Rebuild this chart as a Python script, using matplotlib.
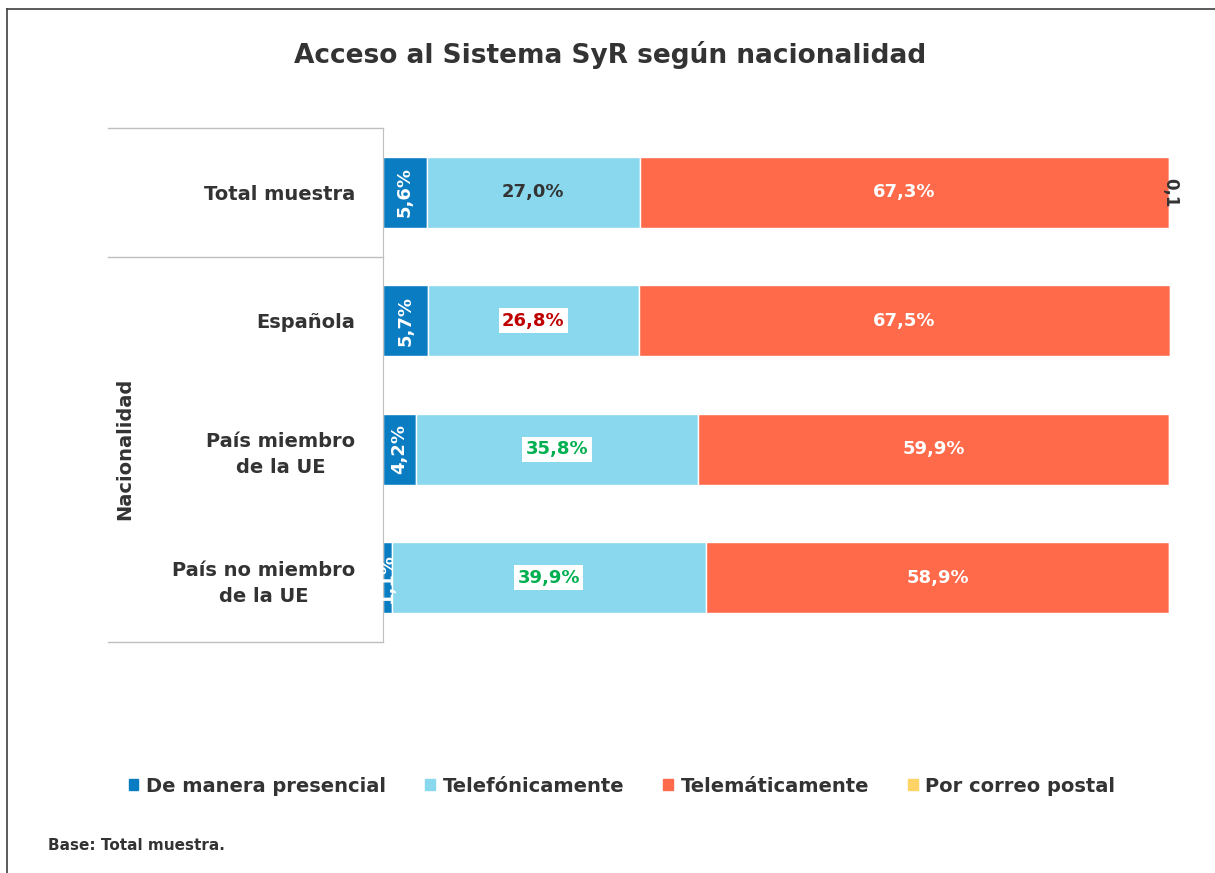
import numpy as np
import matplotlib.pyplot as plt
from matplotlib.lines import Line2D

# Data ==================================================================================================================
categories = ["Total muestra", "Española", "País miembro\nde la UE", "País no miembro\nde la UE"]
series_names = ["De manera presencial", "Telefónicamente", "Telemáticamente", "Por correo postal"]
presencial = [5.6, 5.7, 4.2, 1.1]
telefonica = [27.0, 26.8, 35.8, 39.9]
telematica = [67.3, 67.5, 59.9, 58.9]
postal = [0.1, 0.0, 0.1, 0.1]

colors = ["#0A7DC2", "#89D8EE", "#FF6A4B", "#FFD466"]
# text colour / box for the telephone labels (significance marks)
tel_label_colors = ["#333333", "#C00000", "#00B050", "#00B050"]
tel_label_boxed = [False, True, True, True]

plt.rcParams['font.family'] = ['DejaVu Sans']
TXT = "#333333"

fig = plt.figure(figsize=(12.15, 8.73), dpi=100)
W, H = 1215, 873
ax = fig.add_axes([383 / W, 1 - 642 / H, (1170 - 383) / W, (642 - 128) / H])

y = np.arange(len(categories))
series = [presencial, telefonica, telematica, postal]
left = np.zeros(len(categories))
for vals, c in zip(series, colors):
    ax.barh(y, vals, left=left, height=0.55, color=c, edgecolor="white", linewidth=1)
    left += np.array(vals)

ax.set_xlim(0, 100)
ax.set_ylim(3.5, -0.5)
ax.set_xticks([])
ax.set_yticks(y)
ax.set_yticklabels(categories, fontsize=14, fontweight="bold", color=TXT,
                   multialignment="center", linespacing=1.45)
ax.tick_params(axis="y", length=0, pad=20)
for s in ["top", "right", "bottom"]:
    ax.spines[s].set_visible(False)
ax.spines["left"].set_color("#BFBFBF")

def fmt(v):
    return f"{v:.1f}".replace(".", ",")

# labels
for i in range(len(categories)):
    x0 = 0
    ax.text(x0 + presencial[i] / 2, i, fmt(presencial[i]) + "%", rotation=90, ha="center", va="center",
            color="white", fontsize=13, fontweight="bold")
    x0 += presencial[i]
    box = dict(facecolor="white", edgecolor="none", pad=2.5) if tel_label_boxed[i] else None
    ax.text(x0 + telefonica[i] / 2, i, fmt(telefonica[i]) + "%", ha="center", va="center",
            color=tel_label_colors[i], fontsize=13, fontweight="bold", bbox=box)
    x0 += telefonica[i]
    ax.text(x0 + telematica[i] / 2, i, fmt(telematica[i]) + "%", ha="center", va="center",
            color="white", fontsize=13, fontweight="bold")
ax.text(100.0, 0, fmt(postal[0]), rotation=-90, ha="center", va="center",
        color=TXT, fontsize=12, fontweight="bold")

# table-like frame on the category side
x_left = (108 - 383) / (1170 - 383)
line_kw = dict(color="#BFBFBF", linewidth=1, clip_on=False)
ax.plot([x_left, 0], [1, 1], transform=ax.transAxes, **line_kw)
ax.plot([x_left, 0], [0, 0], transform=ax.transAxes, **line_kw)
ax.plot([x_left, 0], [0.5, 0.5], transform=ax.get_yaxis_transform(), **line_kw)

fig.text(125 / W, 1 - 449 / H, "Nacionalidad", rotation=90, ha="center", va="center",
         fontsize=14, fontweight="bold", color=TXT)

fig.suptitle("Acceso al Sistema SyR según nacionalidad", x=610 / W, y=1 - 55 / H, va="center",
             fontsize=19, fontweight="bold", color=TXT)

handles = [plt.Rectangle((0, 0), 1, 1, color=c) for c in colors]
fig.legend(handles, series_names, loc="center", bbox_to_anchor=(622 / W, 1 - 786 / H), ncol=4,
           frameon=False, handlelength=0.5, handleheight=0.5, handletextpad=0.4, columnspacing=2.0,
           prop=dict(size=14, weight="bold"), labelcolor=TXT)

fig.text(48 / W, 1 - 845 / H, "Base: Total muestra.", ha="left", va="center",
         fontsize=11, fontweight="bold", color=TXT)

# outer frame (top and left edges visible)
fig.add_artist(Line2D([7 / W, 1], [1 - 9 / H, 1 - 9 / H], color="#404040", linewidth=1.2, transform=fig.transFigure))
fig.add_artist(Line2D([7 / W, 7 / W], [0, 1 - 9 / H], color="#404040", linewidth=1.2, transform=fig.transFigure))

fig.savefig("out.png", dpi=100)
